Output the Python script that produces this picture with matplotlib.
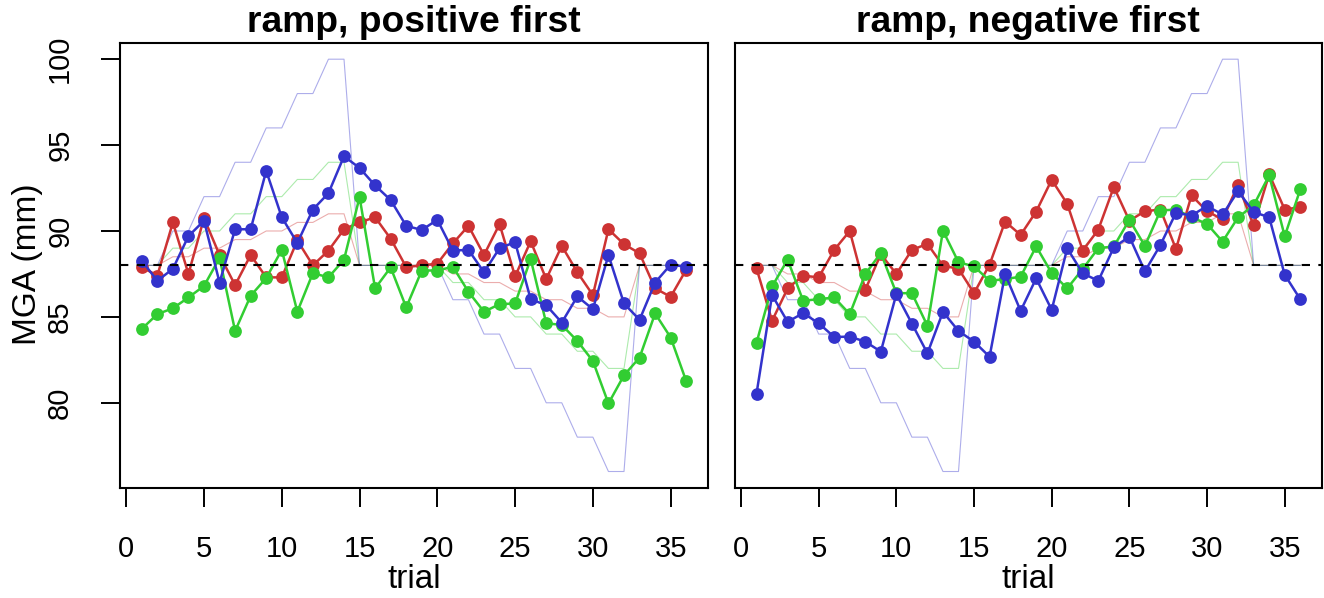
import matplotlib
matplotlib.use("Agg")
import matplotlib.pyplot as plt
import numpy as np

plt.rcParams['font.family'] = ['Liberation Sans', 'DejaVu Sans']

trials = list(range(1, 37))

# ---- ramp, positive first ----
pos_red = [87.9, 87.4, 90.5, 87.5, 90.75, 88.6, 86.85, 88.6, 87.3, 87.3, 89.45, 88.0,
           88.86, 90.1, 90.5, 90.8, 89.55, 87.9, 88.0, 88.1, 89.28, 90.3, 88.6, 90.4,
           87.36, 89.4, 87.2, 89.13, 87.6, 86.27, 90.1, 89.23, 88.7, 86.66, 86.17, 87.75]
pos_green = [84.3, 85.16, 85.5, 86.13, 86.8, 88.43, 84.18, 86.23, 87.26, 88.9, 85.3, 87.55,
             87.3, 88.33, 91.97, 86.66, 87.88, 85.55, 87.7, 87.7, 87.92, 86.46, 85.3, 85.74,
             85.78, 88.37, 84.63, 84.53, 83.6, 82.43, 79.96, 81.6, 82.63, 85.2, 83.8, 81.26]
pos_blue = [88.27, 87.1, 87.8, 89.7, 90.6, 87.0, 90.1, 90.1, 93.5, 90.8, 89.3, 91.25,
            92.2, 94.35, 93.67, 92.65, 91.8, 90.3, 90.06, 90.65, 88.86, 88.9, 87.6, 89.0,
            89.35, 86.03, 85.68, 84.67, 86.19, 85.45, 88.6, 85.78, 84.83, 87.0, 88.04, 87.92]
pos_red_target = [88, 88, 88.5, 88.5, 89, 89, 89.5, 89.5, 90, 90, 90.5, 90.5, 91, 91,
                  88, 88, 88, 88, 88, 88, 87.5, 87.5, 87, 87, 86.5, 86.5, 86, 86, 85.5, 85.5,
                  85, 85, 88, 88, 88, 88]
pos_green_target = [88, 88, 89, 89, 90, 90, 91, 91, 92, 92, 93, 93, 94, 94,
                    88, 88, 88, 88, 88, 88, 87, 87, 86, 86, 85, 85, 84, 84, 83, 83,
                    82, 82, 88, 88, 88, 88]
pos_blue_target = [88, 88, 90, 90, 92, 92, 94, 94, 96, 96, 98, 98, 100, 100,
                   88, 88, 88, 88, 88, 88, 86, 86, 84, 84, 82, 82, 80, 80, 78, 78,
                   76, 76, 88, 88, 88, 88]

# ---- ramp, negative first ----
neg_red = [87.82, 84.77, 86.66, 87.4, 87.3, 88.9, 90.0, 86.58, 88.65, 87.5, 88.9, 89.25,
           87.98, 87.8, 86.38, 88.04, 90.55, 89.77, 91.13, 92.98, 91.58, 88.86, 90.08, 92.56,
           90.6, 91.15, 91.25, 88.95, 92.07, 91.15, 90.67, 92.7, 90.32, 93.3, 91.25, 91.39]
neg_green = [83.5, 86.77, 88.33, 85.94, 86.03, 86.13, 85.16, 87.49, 88.72, 86.38, 86.38, 84.48,
             90.02, 88.18, 87.94, 87.1, 87.2, 87.34, 89.1, 87.55, 86.66, 87.79, 89.0, 89.1,
             90.65, 89.13, 91.19, 91.25, 90.8, 90.41, 89.38, 90.8, 91.49, 93.24, 89.69, 92.42]
neg_blue = [80.54, 86.27, 84.71, 85.22, 84.63, 83.83, 83.85, 83.56, 82.98, 86.33, 84.61, 82.88,
            85.29, 84.18, 83.56, 82.68, 87.49, 85.35, 87.24, 85.41, 88.99, 87.53, 87.1, 89.05,
            89.67, 87.65, 89.19, 91.06, 90.9, 91.45, 90.96, 92.32, 91.1, 90.8, 87.45, 86.03]
neg_red_target = [88, 88, 87.5, 87.5, 87, 87, 86.5, 86.5, 86, 86, 85.5, 85.5, 85, 85,
                  88, 88, 88, 88, 88, 88, 88.5, 88.5, 89, 89, 89.5, 89.5, 90, 90, 90.5, 90.5,
                  91, 91, 88, 88, 88, 88]
neg_green_target = [88, 88, 87, 87, 86, 86, 85, 85, 84, 84, 83, 83, 82, 82,
                    88, 88, 88, 88, 88, 88, 89, 89, 90, 90, 91, 91, 92, 92, 93, 93,
                    94, 94, 88, 88, 88, 88]
neg_blue_target = [88, 88, 86, 86, 84, 84, 82, 82, 80, 80, 78, 78, 76, 76,
                   88, 88, 88, 88, 88, 88, 90, 90, 92, 92, 94, 94, 96, 96, 98, 98,
                   100, 100, 88, 88, 88, 88]

baseline = 88
titles = ["ramp, positive first", "ramp, negative first"]
xticks = [0, 5, 10, 15, 20, 25, 30, 35]
yticks = [80, 85, 90, 95, 100]

RED = "#CD3333"
GREEN = "#32CD32"
BLUE = "#3333CC"

W, H = 1324, 598
fig = plt.figure(figsize=(W / 100, H / 100), dpi=100)

boxes = [(120, 42.7, 708, 488), (734.8, 42.7, 1322, 488)]
panels = [
    (pos_red, pos_green, pos_blue, pos_red_target, pos_green_target, pos_blue_target),
    (neg_red, neg_green, neg_blue, neg_red_target, neg_green_target, neg_blue_target),
]

for i, (box, data) in enumerate(zip(boxes, panels)):
    x0, y0, x1, y1 = box
    ax = fig.add_axes([x0 / W, 1 - y1 / H, (x1 - x0) / W, (y1 - y0) / H])
    r, g, b, rt, gt, bt = data
    for tgt, col in ((rt, RED), (gt, GREEN), (bt, BLUE)):
        ax.plot(trials, tgt, color=col, lw=0.8, alpha=0.4, zorder=1)
    for ser, col in ((r, RED), (g, GREEN), (b, BLUE)):
        ax.plot(trials, ser, color=col, lw=1.8, marker='o', markersize=9.2,
                markeredgewidth=0, zorder=3)
    ax.axhline(baseline, color='black', lw=1.5, dashes=(4, 4), zorder=5)

    ax.set_xlim(-0.4, 37.4)
    ax.set_ylim(75.04, 100.96)
    ax.set_xticks(xticks)
    ax.set_xticklabels([str(t) for t in xticks])
    ax.tick_params(axis='x', direction='out', length=14, width=1.4, pad=20,
                   labelsize=21)
    if i == 0:
        ax.set_yticks(yticks)
        ax.set_yticklabels([str(t) for t in yticks], rotation=90, va='center')
        ax.tick_params(axis='y', direction='out', length=14, width=1.4, pad=19,
                       labelsize=21)
    else:
        ax.set_yticks([])
    for sp in ax.spines.values():
        sp.set_linewidth(1.5)
        sp.set_color('black')
    cx = (x0 + x1) / 2
    fig.text(cx / W, 1 - 22 / H, titles[i], ha='center', va='center',
             fontsize=26.8, fontweight='bold')
    fig.text(cx / W, 1 - 580 / H, "trial", ha='center', va='center', fontsize=24)

fig.text(28 / W, 1 - 264 / H, "MGA (mm)", ha='center', va='center',
         rotation=90, fontsize=24)

fig.savefig("out.png", dpi=100)
